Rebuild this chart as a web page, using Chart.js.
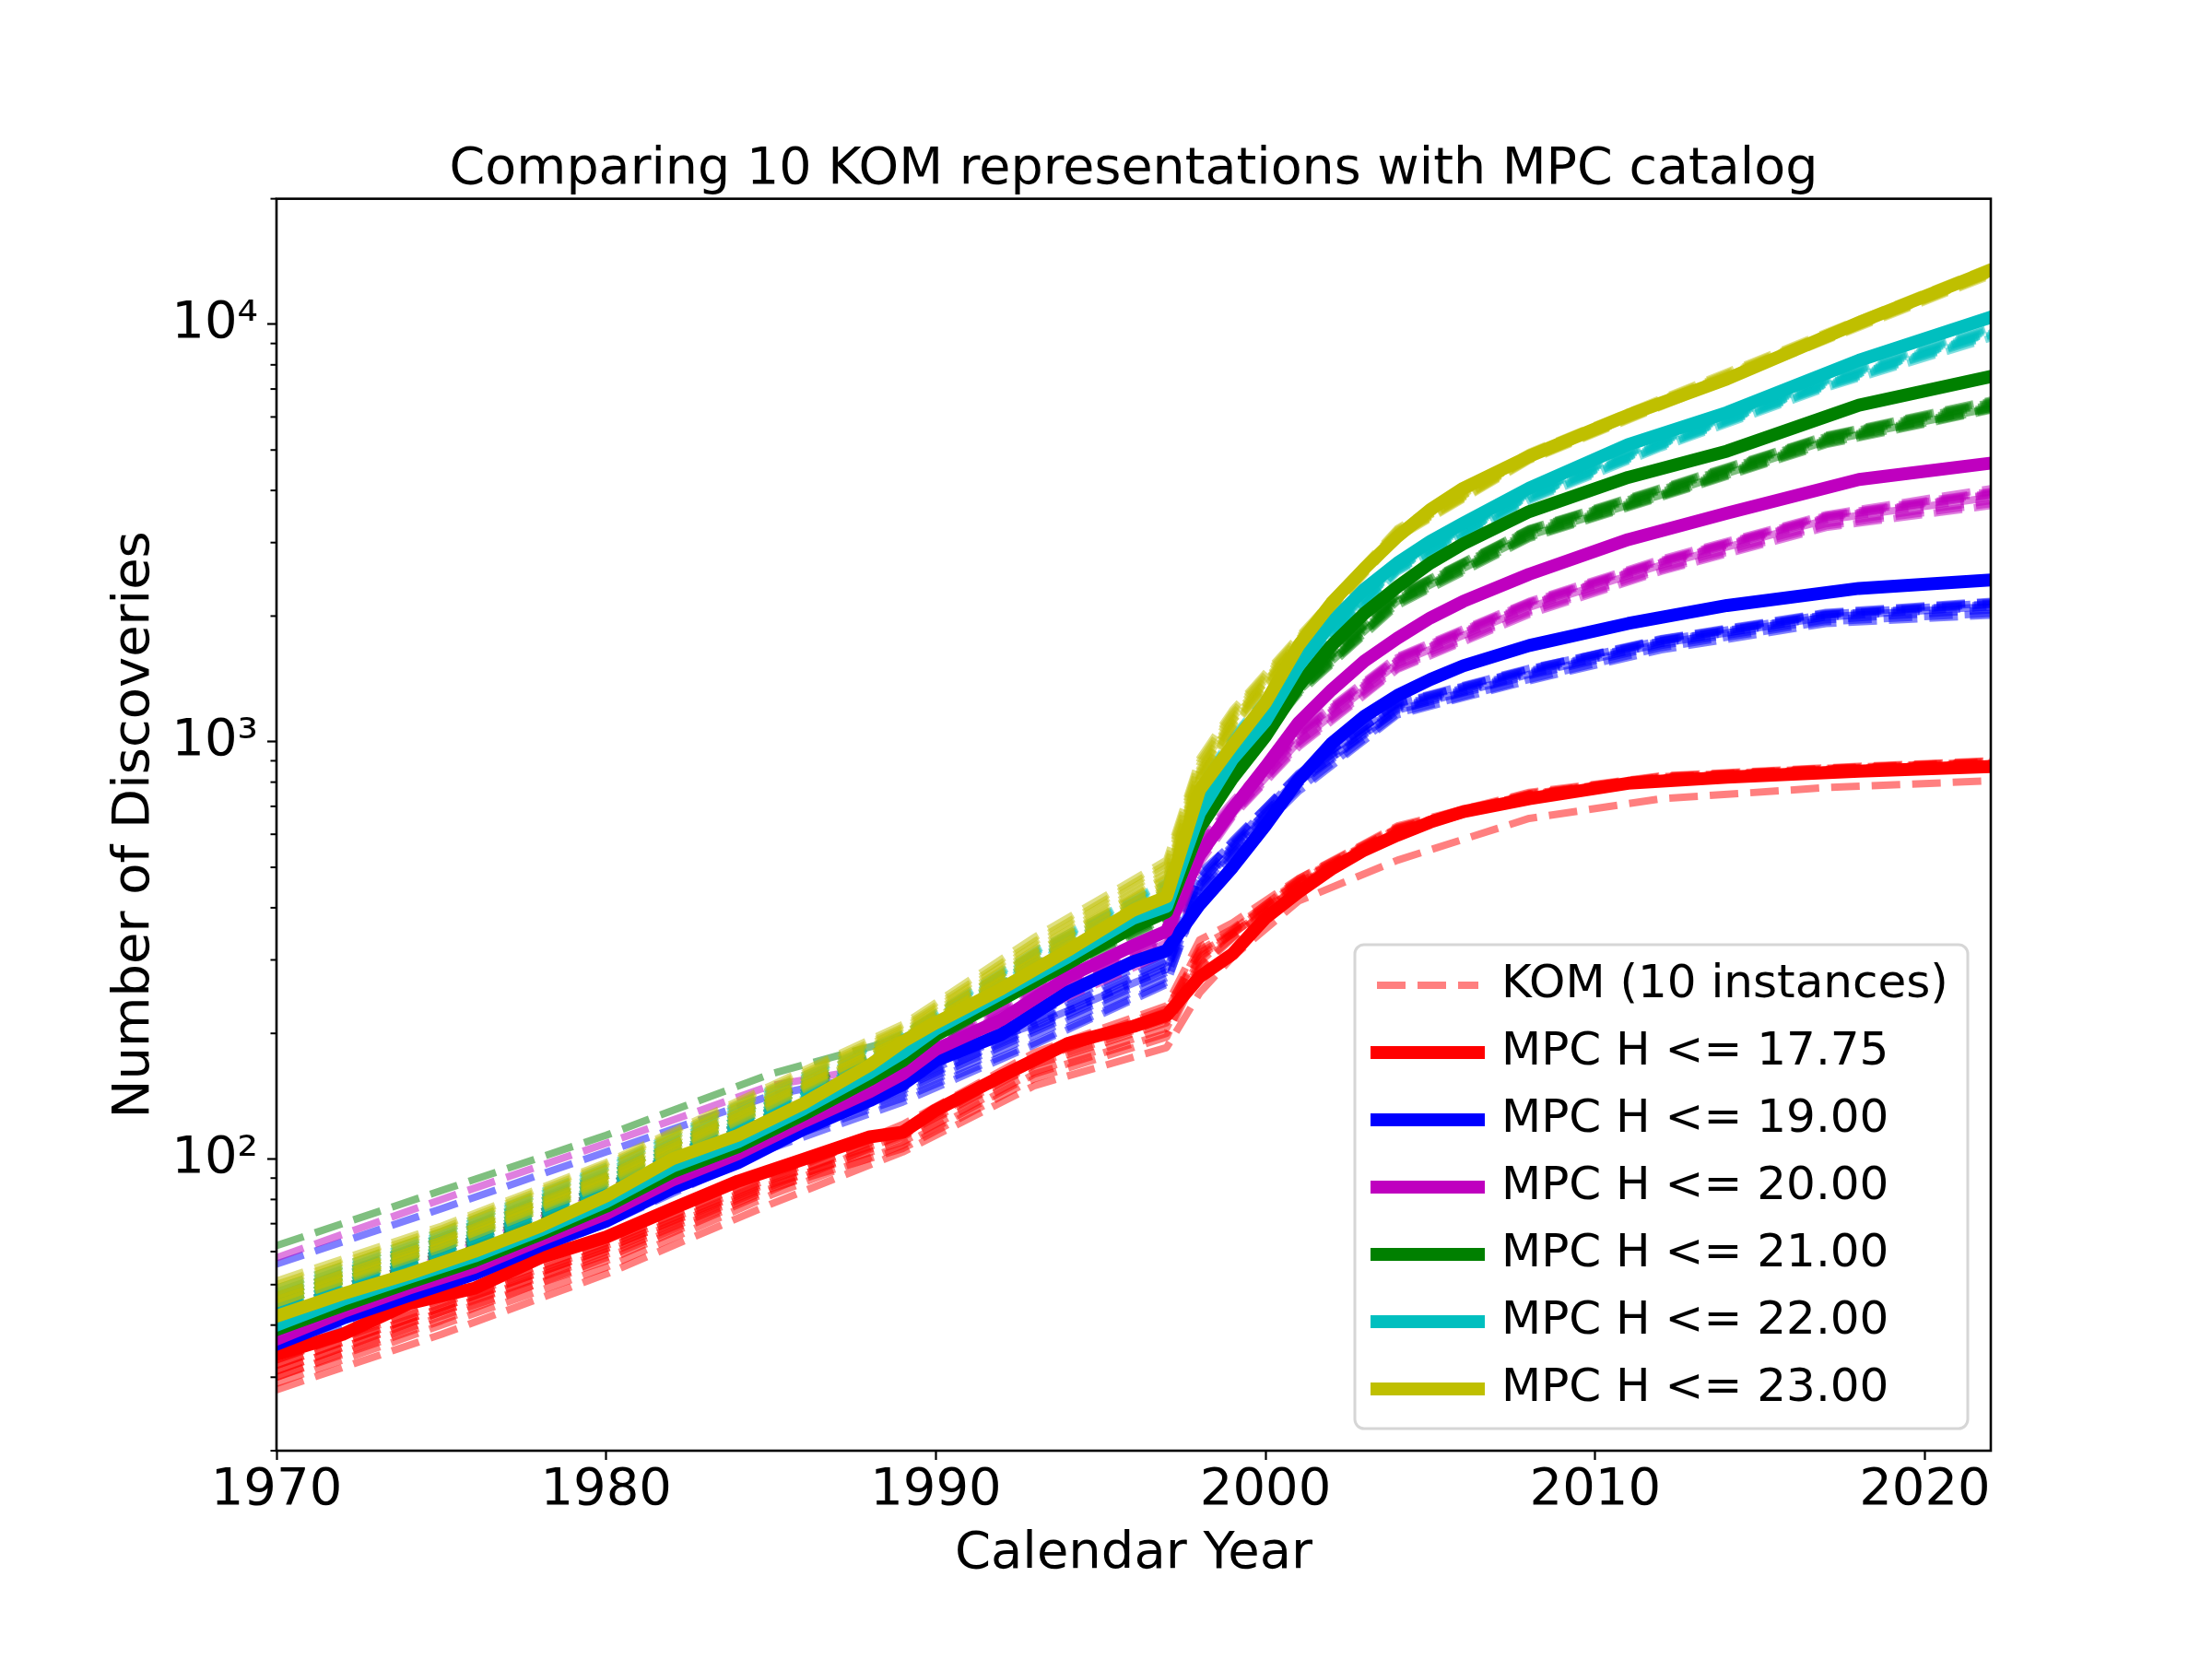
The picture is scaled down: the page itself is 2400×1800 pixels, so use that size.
<!DOCTYPE html>
<html>
<head>
<meta charset="utf-8">
<title>Comparing 10 KOM representations with MPC catalog</title>
<script src="https://cdn.jsdelivr.net/npm/chart.js@4.4.1/dist/chart.umd.min.js"></script>
<style>
  html, body { margin: 0; padding: 0; background: #fff; }
  canvas { display: block; }
</style>
</head>
<body>
<canvas id="discoveries" width="2400" height="1800"></canvas>
<script>
// years sampled for the MPC catalog curves
var years = [1970, 1972, 1974, 1976, 1978, 1980, 1982, 1984, 1986, 1988, 1989, 1990, 1992, 1994, 1996,
             1997, 1998, 1999, 2000, 2001, 2002, 2003, 2004, 2005, 2006, 2008, 2011, 2014, 2018, 2022];

// cumulative MPC discoveries, one array per H limit
var mpcH1775 = [34, 38, 45, 49, 58, 65, 76, 88.5, 100, 113, 116, 131, 158, 189, 208, 221, 273, 310, 378, 436, 495, 550, 597, 642, 680, 730, 795, 822, 850, 872];
var mpcH1900 = [36, 41.5, 47, 53, 62, 71, 85, 98, 118, 138, 151, 172, 199, 251, 297, 316, 407, 500, 630, 810, 990, 1150, 1290, 1410, 1520, 1700, 1920, 2120, 2330, 2440];
var mpcH2000 = [37, 43, 49, 55, 64, 74, 89, 103, 123, 145, 160, 183, 216, 273, 325, 352, 535, 690, 870, 1110, 1330, 1560, 1770, 1980, 2170, 2520, 3050, 3530, 4250, 4650];
var mpcH2100 = [39, 44.5, 50.5, 57, 66, 77, 93, 107, 128, 155, 172, 198, 241, 294, 360, 391, 621, 817, 1030, 1360, 1700, 2030, 2350, 2680, 2980, 3560, 4300, 4970, 6400, 7500];
var mpcH2200 = [40, 46, 52, 58.5, 67.5, 79, 96, 110, 132, 161, 180, 205, 250, 305, 378, 403, 675, 908, 1120, 1520, 1930, 2320, 2680, 3020, 3340, 4050, 5150, 6150, 8200, 10400];
var mpcH2300 = [42, 47.5, 53, 60, 69, 81.5, 100, 114, 136, 168, 191, 212, 256, 316, 395, 425, 766, 980, 1240, 1700, 2150, 2600, 3100, 3600, 4050, 4830, 6060, 7400, 10100, 13500];

// years sampled for the KOM instances
var komYears = [1970, 1975, 1980, 1985, 1989, 1993, 1997, 1998, 1999, 2001, 2004, 2008, 2012, 2017, 2022];

// 10 KOM instances per H limit
var komH1775 = [
  [33, 45, 62, 90, 121, 180, 233, 335, 368, 470, 628, 756, 828, 866, 900],
  [31, 43, 59, 86, 113, 168, 212, 302, 352, 462, 618, 746, 820, 860, 892],
  [29, 40, 55, 82, 108, 160, 200, 290, 340, 455, 612, 740, 815, 854, 884],
  [30, 42, 57, 84, 115, 172, 226, 322, 356, 466, 622, 750, 824, 864, 896],
  [32, 44, 61, 88, 118, 176, 229, 312, 346, 452, 606, 738, 812, 852, 880],
  [28, 38, 53, 78, 104, 150, 185, 250, 305, 415, 520, 655, 730, 776, 806],
  [31, 43, 60, 87, 110, 162, 206, 296, 349, 463, 619, 748, 818, 858, 888],
  [33, 46, 63, 92, 118, 174, 221, 316, 353, 469, 624, 752, 826, 862, 898],
  [30, 41, 58, 85, 106, 156, 196, 286, 338, 453, 609, 742, 816, 856, 886],
  [32, 44, 61, 89, 114, 169, 216, 306, 346, 459, 614, 746, 821, 859, 893]
];
var komH1900 = [
  [56, 76, 104, 142, 165, 210, 285, 450, 550, 800, 1190, 1450, 1720, 1990, 2110],
  [38, 53, 76, 115, 150, 205, 285, 455, 560, 820, 1210, 1470, 1740, 2010, 2130],
  [40, 56, 79, 119, 155, 215, 300, 475, 575, 840, 1230, 1490, 1760, 2030, 2160],
  [36, 50, 72, 109, 140, 190, 265, 430, 530, 760, 1160, 1400, 1660, 1920, 2010],
  [42, 58, 82, 124, 158, 222, 310, 485, 570, 830, 1240, 1500, 1750, 2020, 2150],
  [35, 49, 70, 106, 137, 188, 262, 440, 540, 770, 1170, 1410, 1680, 1940, 2030],
  [39, 54, 77, 117, 148, 208, 290, 465, 565, 810, 1220, 1480, 1745, 2015, 2140],
  [41, 57, 80, 121, 152, 212, 296, 470, 580, 835, 1235, 1495, 1765, 2040, 2170],
  [37, 51, 73, 111, 143, 198, 272, 445, 545, 790, 1190, 1440, 1700, 1960, 2070],
  [38, 52, 75, 113, 146, 202, 280, 455, 555, 800, 1200, 1460, 1720, 1990, 2100]
];
var komH2000 = [
  [58, 80, 109, 150, 170, 235, 330, 540, 670, 1000, 1540, 2100, 2650, 3400, 3850],
  [39, 55, 79, 120, 162, 240, 335, 545, 690, 1020, 1560, 2120, 2680, 3420, 3900],
  [41, 58, 83, 126, 168, 250, 350, 570, 710, 1050, 1590, 2160, 2720, 3480, 3980],
  [37, 52, 75, 114, 154, 225, 312, 510, 660, 970, 1490, 2020, 2560, 3260, 3680],
  [43, 60, 86, 130, 172, 255, 355, 580, 720, 1060, 1600, 2170, 2740, 3500, 4040],
  [38, 53, 77, 116, 157, 230, 318, 520, 665, 980, 1500, 2040, 2580, 3290, 3720],
  [40, 56, 81, 123, 165, 246, 342, 555, 700, 1040, 1575, 2140, 2700, 3450, 3940],
  [42, 59, 84, 127, 170, 252, 348, 565, 705, 1045, 1585, 2150, 2710, 3470, 3960],
  [38, 54, 78, 118, 159, 234, 325, 530, 675, 995, 1520, 2060, 2610, 3330, 3780],
  [39, 55, 80, 121, 163, 242, 338, 550, 695, 1030, 1565, 2130, 2690, 3440, 3920]
];
var komH2100 = [
  [62, 84, 114, 160, 195, 280, 395, 650, 860, 1320, 2170, 3120, 3900, 5250, 6300],
  [42, 58, 83, 127, 178, 275, 385, 640, 850, 1330, 2180, 3150, 3930, 5280, 6350],
  [44, 61, 87, 133, 185, 288, 410, 680, 890, 1370, 2230, 3220, 4020, 5380, 6500],
  [41, 57, 81, 124, 173, 264, 372, 625, 825, 1300, 2120, 3070, 3850, 5150, 6230],
  [47, 65, 92, 140, 190, 292, 420, 700, 910, 1385, 2250, 3240, 4060, 5420, 6580],
  [42, 59, 84, 128, 176, 268, 378, 632, 835, 1310, 2140, 3090, 3870, 5180, 6260],
  [45, 62, 89, 136, 186, 284, 404, 670, 880, 1360, 2220, 3200, 4000, 5350, 6470],
  [43, 60, 86, 131, 182, 279, 396, 660, 870, 1345, 2200, 3180, 3970, 5320, 6420],
  [46, 64, 91, 138, 188, 289, 414, 690, 900, 1375, 2240, 3230, 4040, 5400, 6540],
  [41, 57, 82, 125, 175, 270, 382, 645, 845, 1320, 2160, 3110, 3890, 5220, 6300]
];
var komH2200 = [
  [43, 59, 85, 130, 186, 290, 420, 720, 960, 1500, 2580, 3830, 5120, 7120, 9450],
  [45, 62, 89, 136, 192, 300, 438, 745, 985, 1530, 2620, 3880, 5180, 7200, 9580],
  [47, 65, 93, 142, 198, 310, 455, 770, 1010, 1560, 2660, 3940, 5250, 7300, 9700],
  [42, 58, 83, 128, 182, 282, 410, 710, 950, 1480, 2550, 3780, 5060, 7040, 9280],
  [49, 67, 96, 147, 200, 315, 462, 790, 1030, 1580, 2680, 3960, 5300, 7380, 9850],
  [44, 61, 87, 133, 189, 295, 430, 735, 975, 1515, 2600, 3860, 5150, 7160, 9520],
  [46, 63, 91, 139, 195, 305, 446, 760, 1000, 1545, 2640, 3910, 5220, 7260, 9650],
  [43, 60, 86, 131, 184, 287, 416, 718, 958, 1495, 2570, 3810, 5100, 7090, 9380],
  [48, 66, 95, 145, 199, 312, 458, 780, 1020, 1570, 2670, 3950, 5280, 7340, 9780],
  [45, 62, 88, 135, 190, 298, 434, 740, 980, 1525, 2610, 3870, 5170, 7190, 9560]
];
var komH2300 = [
  [45, 61, 87, 134, 193, 295, 440, 810, 1080, 1680, 3080, 4720, 6350, 9150, 13100],
  [47, 64, 91, 140, 198, 310, 470, 840, 1120, 1720, 3140, 4800, 6450, 9300, 13350],
  [49, 67, 95, 146, 205, 325, 500, 880, 1160, 1760, 3200, 4880, 6560, 9450, 13600],
  [46, 62, 89, 137, 195, 300, 452, 820, 1095, 1700, 3110, 4760, 6400, 9220, 13220],
  [51, 69, 98, 150, 210, 340, 520, 910, 1190, 1790, 3240, 4940, 6640, 9560, 13750],
  [45, 62, 88, 135, 196, 298, 445, 815, 1090, 1690, 3100, 4740, 6380, 9200, 13180],
  [48, 65, 93, 143, 202, 318, 485, 860, 1140, 1740, 3170, 4840, 6500, 9380, 13480],
  [46, 63, 90, 138, 194, 304, 458, 828, 1105, 1710, 3125, 4780, 6420, 9260, 13280],
  [50, 68, 97, 148, 207, 332, 510, 895, 1175, 1775, 3220, 4910, 6600, 9500, 13680],
  [47, 64, 91, 141, 199, 312, 475, 848, 1125, 1725, 3150, 4810, 6460, 9320, 13400]
];

var hLimits = ['17.75', '19.00', '20.00', '21.00', '22.00', '23.00'];
var xTickValues = [1970, 1980, 1990, 2000, 2010, 2020];
var yTickValues = [100, 1000, 10000];
var yTickLabels = ['10²', '10³', '10⁴'];
var yMinorTicks = [20, 30, 40, 50, 60, 70, 80, 90, 200, 300, 400, 500, 600, 700, 800, 900,
                   2000, 3000, 4000, 5000, 6000, 7000, 8000, 9000, 20000];

var mpcSeries = [mpcH1775, mpcH1900, mpcH2000, mpcH2100, mpcH2200, mpcH2300];
var komSeries = [komH1775, komH1900, komH2000, komH2100, komH2200, komH2300];
var lineColors = ['#ff0000', '#0000ff', '#bf00bf', '#008000', '#00bfbf', '#bfbf00'];
var komColors = ['rgba(255,0,0,0.5)', 'rgba(0,0,255,0.5)', 'rgba(191,0,191,0.5)',
                 'rgba(0,128,0,0.5)', 'rgba(0,191,191,0.5)', 'rgba(191,191,0,0.5)'];
var komDash = [31, 13];
var legendBox = { left: 1470, top: 1025, right: 2135, bottom: 1550 };

function toPoints(xs, ys) {
    return xs.map(function (x, i) { return { x: x, y: ys[i] }; });
}

var datasets = [];
komSeries.forEach(function (group, g) {
    group.forEach(function (inst, k) {
        datasets.push({
            label: 'KOM H <= ' + hLimits[g] + ' #' + (k + 1),
            data: toPoints(komYears, inst),
            borderColor: komColors[g],
            borderWidth: 8,
            borderDash: komDash,
            borderCapStyle: 'butt',
            borderJoinStyle: 'round',
            pointRadius: 0,
            tension: 0,
            fill: false,
            clip: 0,
            order: 20 - g
        });
    });
});
var komCount = datasets.length;
mpcSeries.forEach(function (vals, g) {
    datasets.push({
        label: 'MPC H <= ' + hLimits[g],
        data: toPoints(years, vals),
        borderColor: lineColors[g],
        borderWidth: 14,
        borderCapStyle: 'square',
        borderJoinStyle: 'round',
        pointRadius: 0,
        tension: 0,
        fill: false,
        clip: 0,
        order: 10 - g
    });
});

// white page, legend frame, axes box and log minor ticks
var axesDecor = {
    id: 'axesDecor',
    afterLayout: function (chart) {
        // move the legend into the lower right of the plot
        var lg = chart.legend;
        lg.left = legendBox.left + 1;
        lg.top = legendBox.top - 4;
        lg.right = legendBox.right + 15;
        lg.bottom = legendBox.bottom + 25;
        lg.width = lg.right - lg.left;
        lg.height = lg.bottom - lg.top;
    },
    beforeDraw: function (chart) {
        var ctx = chart.ctx;
        ctx.save();
        ctx.fillStyle = '#ffffff';
        ctx.fillRect(0, 0, chart.width, chart.height);
        var b = legendBox, r = 10;
        ctx.beginPath();
        ctx.moveTo(b.left + r, b.top);
        ctx.arcTo(b.right, b.top, b.right, b.bottom, r);
        ctx.arcTo(b.right, b.bottom, b.left, b.bottom, r);
        ctx.arcTo(b.left, b.bottom, b.left, b.top, r);
        ctx.arcTo(b.left, b.top, b.right, b.top, r);
        ctx.closePath();
        ctx.lineWidth = 3;
        ctx.strokeStyle = '#d6d6d6';
        ctx.stroke();
        ctx.restore();
    },
    afterDraw: function (chart) {
        var ctx = chart.ctx;
        var a = chart.chartArea;
        var ys = chart.scales.y;
        ctx.save();
        ctx.strokeStyle = '#000000';
        ctx.lineWidth = 2;
        yMinorTicks.forEach(function (v) {
            var py = ys.getPixelForValue(v);
            ctx.beginPath();
            ctx.moveTo(a.left - 6.5, py);
            ctx.lineTo(a.left, py);
            ctx.stroke();
        });
        ctx.lineWidth = 2.6;
        ctx.strokeRect(a.left, a.top, a.right - a.left, a.bottom - a.top);
        ctx.restore();
    }
};

Chart.defaults.font.family = "'DejaVu Sans', sans-serif";
Chart.defaults.color = '#000000';

var ctx = document.getElementById('discoveries');
var chart = new Chart(ctx, {
    type: 'line',
    data: { datasets: datasets },
    plugins: [axesDecor],
    options: {
        responsive: false,
        animation: false,
        devicePixelRatio: 1,
        events: [],
        layout: { padding: { left: 0, right: 240, top: 0, bottom: 0 } },
        plugins: {
            title: {
                display: true,
                text: 'Comparing 10 KOM representations with MPC catalog',
                font: { size: 55.5, weight: 'normal', lineHeight: 1.1 },
                color: '#000000',
                fullSize: false,
                padding: { top: 154, bottom: 0.6 }
            },
            legend: {
                display: true,
                position: 'chartArea',
                align: 'start',
                labels: {
                    font: { size: 50 },
                    color: '#000000',
                    usePointStyle: true,
                    pointStyleWidth: 110,
                    padding: 23,
                    generateLabels: function () {
                        var items = [{
                            text: 'KOM (10 instances)',
                            fillStyle: komColors[0],
                            strokeStyle: komColors[0],
                            lineWidth: 8,
                            lineDash: komDash,
                            lineCap: 'butt',
                            pointStyle: 'line',
                            fontColor: '#000000',
                            hidden: false,
                            datasetIndex: 0
                        }];
                        hLimits.forEach(function (h, g) {
                            items.push({
                                text: 'MPC H <= ' + h,
                                fillStyle: lineColors[g],
                                strokeStyle: lineColors[g],
                                lineWidth: 14,
                                lineDash: [],
                                lineCap: 'square',
                                pointStyle: 'line',
                                fontColor: '#000000',
                                hidden: false,
                                datasetIndex: komCount + g
                            });
                        });
                        return items;
                    }
                }
            },
            tooltip: { enabled: false }
        },
        scales: {
            x: {
                type: 'linear',
                min: 1970,
                max: 2022,
                afterBuildTicks: function (scale) {
                    scale.ticks = xTickValues.map(function (v) { return { value: v }; });
                },
                afterFit: function (scale) { scale.height = 226; },
                ticks: {
                    autoSkip: false,
                    maxRotation: 0,
                    padding: 0,
                    font: { size: 56, lineHeight: 1.2 },
                    color: '#000000',
                    callback: function (v) { return String(v); }
                },
                grid: {
                    display: true,
                    drawOnChartArea: false,
                    drawTicks: true,
                    tickLength: 10,
                    tickWidth: 2.2,
                    tickColor: '#000000'
                },
                border: { display: false },
                title: {
                    display: true,
                    text: 'Calendar Year',
                    font: { size: 56, lineHeight: 1.2 },
                    color: '#000000',
                    padding: { top: 0, bottom: 80 }
                }
            },
            y: {
                type: 'logarithmic',
                min: 20,
                max: 20000,
                afterBuildTicks: function (scale) {
                    scale.ticks = yTickValues.map(function (v) { return { value: v }; });
                },
                afterFit: function (scale) { scale.width = 300; },
                ticks: {
                    autoSkip: false,
                    padding: 10,
                    font: { size: 56, lineHeight: 1.2 },
                    color: '#000000',
                    callback: function (v) {
                        var i = yTickValues.indexOf(v);
                        return i >= 0 ? yTickLabels[i] : '';
                    }
                },
                grid: {
                    display: true,
                    drawOnChartArea: false,
                    drawTicks: true,
                    tickLength: 10,
                    tickWidth: 2.2,
                    tickColor: '#000000'
                },
                border: { display: false },
                title: {
                    display: true,
                    text: 'Number of Discoveries',
                    font: { size: 56, lineHeight: 1.2 },
                    color: '#000000',
                    padding: { top: 113, bottom: 0 }
                }
            }
        }
    }
});
</script>
</body>
</html>
